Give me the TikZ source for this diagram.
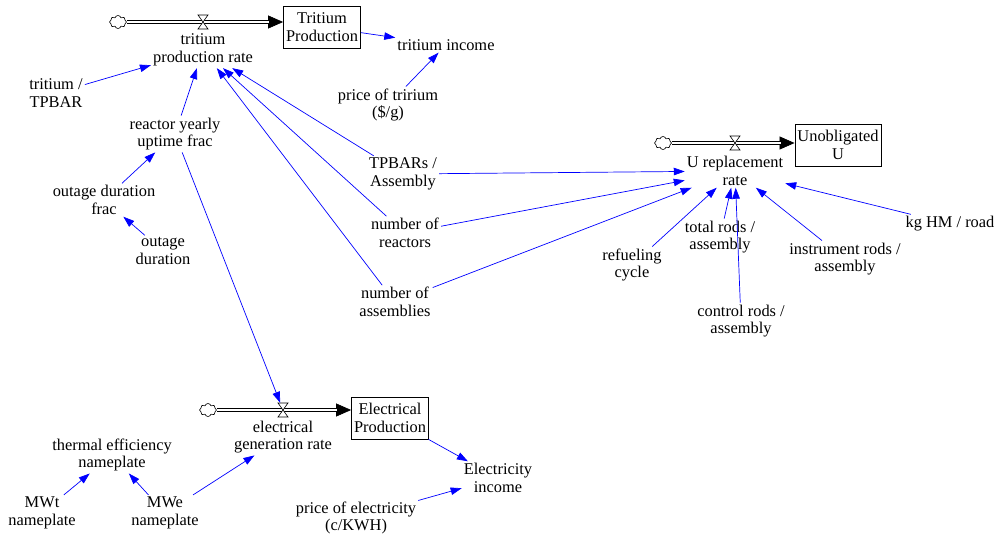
\documentclass[tikz,border=0pt]{standalone}
\usepackage{fontspec}
\setmainfont{Liberation Serif}
\usetikzlibrary{arrows.meta,shapes.symbols}

\tikzset{
  var/.style={align=center, inner sep=2pt},
  stock/.style={draw, line width=0.8pt, align=center, inner xsep=2.5pt,
    minimum height=42pt},
  link/.style={blue, line width=0.7pt, -{Triangle[length=11pt,width=7.5pt]}},
  pipe/.style={draw=black, line width=0.7pt, double=white, double distance=2.6pt},
  pipehead/.style={line width=0.7pt, -{Triangle[length=15pt,width=13pt]}},
  source/.style={cloud, cloud puffs=8, draw, fill=white, minimum width=17pt,
    minimum height=13pt, inner sep=0pt, line width=0.6pt},
  valvebox/.style={minimum width=10pt, minimum height=14pt, inner sep=0pt},
  valveshape/.style={draw, fill=white, line width=0.6pt}
}

\begin{document}
\begin{tikzpicture}[x=1pt, y=-1pt, font=\fontsize{16.4}{17.5}\selectfont]
  \useasboundingbox (0,0) rectangle (996,535);

  % Tritium production flow
  \node[source] (tc) at (118,22) {};
  \node[stock] (tbox) at (322,27) {Tritium\\Production};
  \node[valvebox] (tv) at (203,22) {};
  \node[var] (trate) at (203,50) {tritium\\production rate};
  \node[var] (tinc) at (446,45) {tritium income};
  \node[var] (tprice) at (388,105) {price of tririum\\(\$/g)};
  \node[var] (tpb) at (56,93) {tritium /\\TPBAR};
  \node[var] (ryuf) at (175,134) {reactor yearly\\uptime frac};
  \node[var] (odf) at (104,200) {outage duration\\frac};
  \node[var] (od) at (163,251) {outage\\duration};
  \node[var] (tpa) at (403,174) {TPBARs /\\Assembly};
  \node[var] (nr) at (405,233) {number of\\reactors};
  \node[var] (na) at (395,302) {number of\\assemblies};

  % Unobligated U flow
  \node[source] (uc) at (663,143) {};
  \node[stock] (ubox) at (838,145) {Unobligated\\U};
  \node[valvebox] (uv) at (735,143) {};
  \node[var] (urate) at (735,171) {U replacement\\rate};
  \node[var] (rc) at (632,265) {refueling\\cycle};
  \node[var] (trod) at (720,237) {total rods /\\assembly};
  \node[var] (crod) at (741,321) {control rods /\\assembly};
  \node[var] (irod) at (845,259) {instrument rods /\\assembly};
  \node[var] (kghm) at (950,224) {kg HM / road};

  % Electrical production flow
  \node[source] (ec) at (208,410) {};
  \node[stock] (ebox) at (390,418) {Electrical\\Production};
  \node[valvebox] (ev) at (283,410) {};
  \node[var] (erate) at (283,437) {electrical\\generation rate};
  \node[var] (einc) at (498,478) {Electricity\\income};
  \node[var] (eprice) at (356,518) {price of electricity\\(c/KWH)};
  \node[var] (teff) at (112,455) {thermal efficiency\\nameplate};
  \node[var] (mwt) at (42,513) {MWt\\nameplate};
  \node[var] (mwe) at (165,513) {MWe\\nameplate};

  % Pipes from the clouds into the stocks
  \draw[pipehead] (tv) -- (tc -| tbox.west);
  \draw[pipe, shorten >=14pt] (tc) -- (tc -| tbox.west);
  \draw[pipehead] (uv) -- (uc -| ubox.west);
  \draw[pipe, shorten >=14pt] (uc) -- (uc -| ubox.west);
  \draw[pipehead] (ev) -- (ec -| ebox.west);
  \draw[pipe, shorten >=14pt] (ec) -- (ec -| ebox.west);

  % Valves
  \draw[valveshape, shift={(tv)}] (-5,-7) -- (5,-7) -- (-5,7) -- (5,7) -- cycle;
  \draw[valveshape, shift={(uv)}] (-5,-7) -- (5,-7) -- (-5,7) -- (5,7) -- cycle;
  \draw[valveshape, shift={(ev)}] (-5,-7) -- (5,-7) -- (-5,7) -- (5,7) -- cycle;

  % Links into tritium production rate
  \draw[link] (tpb) -- (trate);
  \draw[link] (ryuf) -- (trate);
  \draw[link] (tpa) -- (trate);
  \draw[link] (nr) -- (trate);
  \draw[link] (na) -- (trate);
  \draw[link] (odf) -- (ryuf);
  \draw[link] (od) -- (odf);
  \draw[link] (tbox) -- (tinc);
  \draw[link] (tprice) -- (tinc);

  % Links into U replacement rate
  \draw[link] (tpa) -- (urate);
  \draw[link] (nr) -- (urate);
  \draw[link] (na) -- (urate);
  \draw[link] (rc) -- (urate);
  \draw[link] (trod) -- (urate);
  \draw[link] (crod) -- (urate);
  \draw[link] (irod) -- (urate);
  \draw[link] (kghm) -- (urate);

  % Links of the electrical part
  \draw[link] (ryuf) -- (ev);
  \draw[link] (ebox) -- (einc);
  \draw[link] (eprice) -- (einc);
  \draw[link] (mwe) -- (erate);
  \draw[link] (mwt) -- (teff);
  \draw[link] (mwe) -- (teff);
\end{tikzpicture}
\end{document}
